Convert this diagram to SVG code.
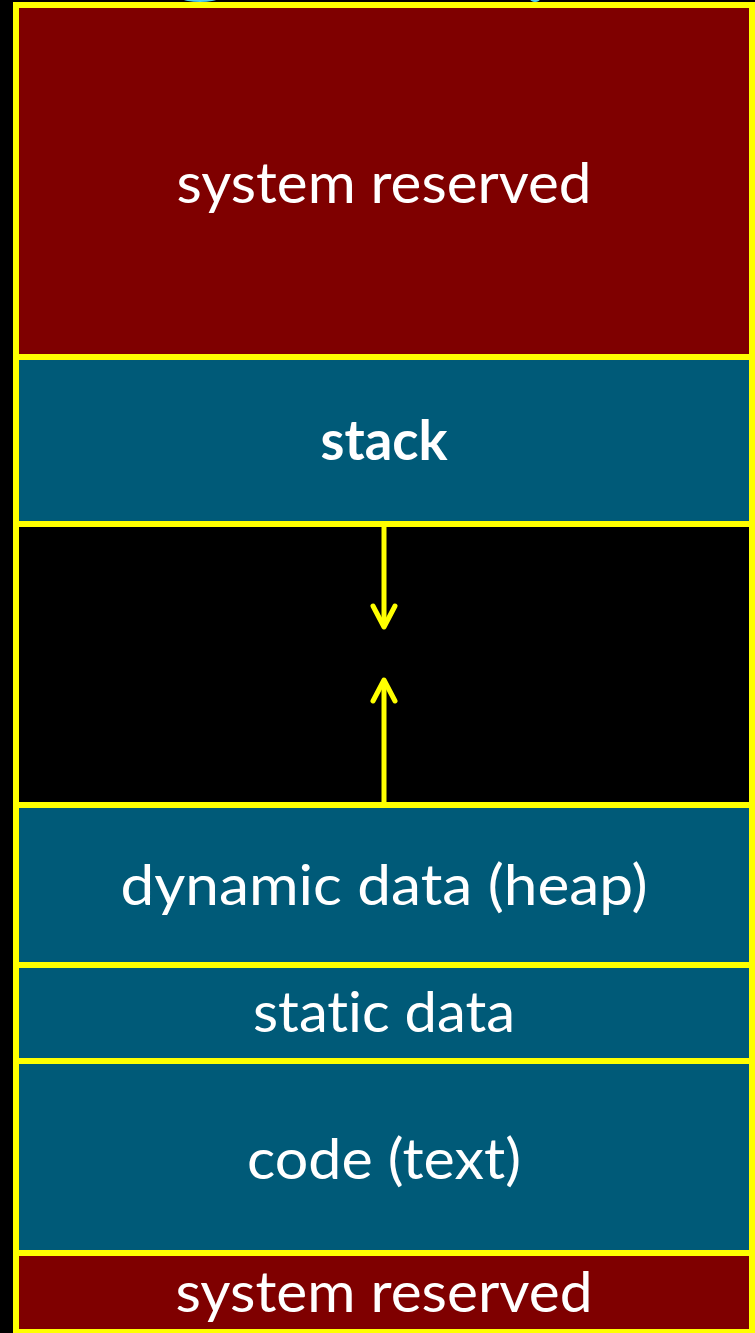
<svg xmlns="http://www.w3.org/2000/svg" width="755" height="1333" viewBox="0 0 755 1333">
  <style>
    .seg { stroke: #FFFF00; stroke-width: 6; }
    .reserved { fill: #7F0000; }
    .teal { fill: #005A78; }
    .free { fill: #000000; }
    .label { fill: #FFFFFF; font-family: Lato, "Open Sans", "Liberation Sans", sans-serif; font-size: 56px; text-anchor: middle; font-variant-ligatures: none; font-feature-settings: "liga" 0; }
    .bold { font-weight: bold; }
    .conn { stroke: #FFFF00; stroke-width: 5; fill: none; }
  </style>
  <defs>
    <marker id="chevron" viewBox="-25 -15 30 30" markerWidth="30" markerHeight="30" refX="0" refY="0" orient="auto" markerUnits="userSpaceOnUse" overflow="visible">
      <path d="M-21,-11 L0,0 L-21,11" fill="none" stroke="#FFFF00" stroke-width="5" stroke-linecap="round" stroke-linejoin="round"/>
    </marker>
  </defs>

  <rect x="0" y="0" width="755" height="1333" fill="#000000"/>

  <!-- partially visible shapes at the top edge -->
  <ellipse cx="200" cy="-1" rx="17" ry="3" fill="#4FD0F0"/>
  <ellipse cx="535" cy="-1" rx="5" ry="3" fill="#4FD0F0"/>

  <g id="system-reserved-top">
    <rect class="seg reserved" x="16" y="5" width="736" height="352"/>
    <text class="label" x="384" y="203" textLength="415" lengthAdjust="spacingAndGlyphs">system reserved</text>
  </g>

  <g id="stack">
    <rect class="seg teal" x="16" y="357" width="736" height="167"/>
    <text class="label bold" x="384" y="460" textLength="127" lengthAdjust="spacingAndGlyphs">stack</text>
  </g>

  <g id="free-space">
    <rect class="seg free" x="16" y="524" width="736" height="281"/>
  </g>

  <g id="heap">
    <rect class="seg teal" x="16" y="805" width="736" height="160"/>
    <text class="label" x="384" y="905" textLength="527" lengthAdjust="spacingAndGlyphs">dynamic data (heap)</text>
  </g>

  <g id="static-data">
    <rect class="seg teal" x="16" y="965" width="736" height="96"/>
    <text class="label" x="384" y="1032" textLength="262" lengthAdjust="spacingAndGlyphs">static data</text>
  </g>

  <g id="code">
    <rect class="seg teal" x="16" y="1061" width="736" height="192"/>
    <text class="label" x="384" y="1179" textLength="274" lengthAdjust="spacingAndGlyphs">code (text)</text>
  </g>

  <g id="system-reserved-bottom">
    <rect class="seg reserved" x="16" y="1253" width="736" height="79"/>
    <text class="label" x="384" y="1312" textLength="417" lengthAdjust="spacingAndGlyphs">system reserved</text>
  </g>

  <g id="connectors">
    <!-- stack grows down -->
    <line class="conn" x1="384" y1="527" x2="384" y2="627" marker-end="url(#chevron)"/>
    <!-- heap grows up -->
    <line class="conn" x1="384" y1="802" x2="384" y2="680" marker-end="url(#chevron)"/>
  </g>
</svg>
